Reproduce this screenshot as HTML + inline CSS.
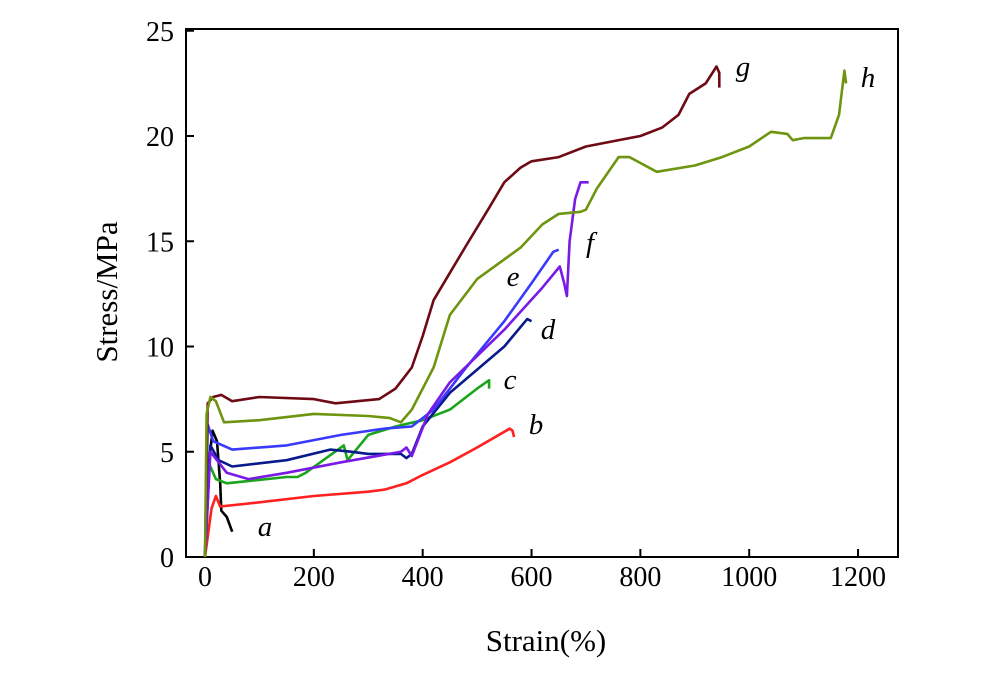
<!DOCTYPE html>
<html><head><meta charset="utf-8"><style>
html,body{margin:0;padding:0;background:#fff;}
svg{display:block;font-family:"Liberation Serif",serif;}
</style></head><body>
<svg id="chart" width="1000" height="675" viewBox="0 0 1000 675" xmlns="http://www.w3.org/2000/svg">
<rect x="186" y="29" width="712" height="528" fill="none" stroke="#000" stroke-width="2"/>
<g id="ticks"></g>
<g id="series"></g>
<text x="546" y="651" font-size="31" text-anchor="middle">Strain(%)</text>
<text transform="translate(117,292) rotate(-90)" font-size="31" text-anchor="middle">Stress/MPa</text>
</svg>
<script>
const xTicks=[0,200,400,600,800,1000,1200];
const yTicks=[0,5,10,15,20,25];
const names=["a","b","c","d","e","f","g","h"];
const colors=["#000000","#ff2020","#1aa51a","#0a1a8c","#3a3aff","#7a1ae6","#6e0a14","#6e9410"];
const sA=[[0,0],[5,4],[14,6],[22,5.5],[28,3.5],[30,2.2],[40,1.9],[50,1.2]];
const sB=[[0,0],[12,2.3],[20,2.9],[28,2.4],[100,2.6],[200,2.9],[300,3.1],[330,3.2],[370,3.5],[400,3.9],[450,4.5],[500,5.2],[560,6.1],[565,6.0],[568,5.7]];
const sC=[[0,0],[8,4.4],[20,3.7],[40,3.5],[150,3.8],[170,3.8],[185,4.0],[255,5.3],[262,4.6],[300,5.8],[350,6.2],[400,6.5],[450,7.0],[500,8.0],[522,8.4],[522,8.0]];
const sD=[[0,0],[10,5.3],[25,4.6],[50,4.3],[150,4.6],[230,5.1],[270,5.0],[300,4.9],[360,4.9],[370,4.7],[380,4.9],[400,6.2],[450,7.8],[550,10.0],[592,11.3],[600,11.2]];
const sE=[[0,0],[5,6.3],[15,5.5],[50,5.1],[150,5.3],[250,5.8],[330,6.1],[380,6.2],[420,7.0],[480,9.0],[550,11.2],[600,13.0],[640,14.5],[650,14.6]];
const sF=[[0,0],[10,5.0],[40,4.0],[80,3.7],[150,4.0],[250,4.5],[360,5.0],[370,5.2],[380,4.8],[410,6.8],[450,8.3],[550,10.8],[620,12.8],[652,13.8],[660,13.0],[665,12.4],[670,15.0],[680,17.0],[690,17.8],[705,17.8]];
const sG=[[0,0],[5,7.3],[15,7.6],[30,7.7],[50,7.4],[100,7.6],[200,7.5],[240,7.3],[320,7.5],[350,8.0],[380,9.0],[400,10.5],[420,12.2],[450,13.5],[480,14.8],[520,16.5],[550,17.8],[580,18.5],[600,18.8],[650,19.0],[700,19.5],[800,20.0],[840,20.4],[870,21.0],[890,22.0],[920,22.5],[940,23.3],[945,23.0],[945,22.3]];
const sH=[[0,0],[3,6.8],[10,7.6],[20,7.4],[35,6.4],[100,6.5],[200,6.8],[300,6.7],[340,6.6],[360,6.4],[380,7.0],[420,9.0],[450,11.5],[500,13.2],[580,14.7],[620,15.8],[650,16.3],[690,16.4],[700,16.5],[720,17.5],[760,19.0],[780,19.0],[830,18.3],[900,18.6],[950,19.0],[1000,19.5],[1040,20.2],[1070,20.1],[1080,19.8],[1100,19.9],[1150,19.9],[1165,21.0],[1175,23.1],[1178,22.5]];
const allSeries=[sA,sB,sC,sD,sE,sF,sG,sH];
const labelPos=[[265,527],[536,425],[510,380],[548,330],[513,277],[590,243],[743,67],[868,78]];
const X=v=>205+v*0.5442, Y=v=>557-v*21.05;
const NS="http://www.w3.org/2000/svg";
const tg=document.getElementById("ticks"), sg=document.getElementById("series");
xTicks.forEach(t=>{
  const l=document.createElementNS(NS,"line");
  
  
  l.setAttribute("x1",X(t));l.setAttribute("x2",X(t));l.setAttribute("y1",557);l.setAttribute("y2",549);l.setAttribute("stroke","#000");l.setAttribute("stroke-width","2");tg.appendChild(l);
  const tx=document.createElementNS(NS,"text");
  
  
  tx.setAttribute("x",X(t));tx.setAttribute("y",586);tx.setAttribute("font-size","28");tx.setAttribute("text-anchor","middle");tx.textContent=t;tg.appendChild(tx);
});
yTicks.forEach(t=>{
  const l=document.createElementNS(NS,"line");
  
  
  l.setAttribute("x1",186);l.setAttribute("x2",194);l.setAttribute("y1",Y(t));l.setAttribute("y2",Y(t));l.setAttribute("stroke","#000");l.setAttribute("stroke-width","2");tg.appendChild(l);
  const tx=document.createElementNS(NS,"text");
  
  
  tx.setAttribute("x",174);tx.setAttribute("y",Y(t)+10);tx.setAttribute("font-size","28");tx.setAttribute("text-anchor","end");tx.textContent=t;tg.appendChild(tx);
});
allSeries.forEach((s,i)=>{
  const p=document.createElementNS(NS,"polyline");
  
  
  p.setAttribute("points",s.map(d=>X(d[0]).toFixed(1)+","+Y(d[1]).toFixed(1)).join(" "));
  p.setAttribute("fill","none");p.setAttribute("stroke",colors[i]);p.setAttribute("stroke-width","2.6");p.setAttribute("stroke-linejoin","round");
  sg.appendChild(p);
  const tx=document.createElementNS(NS,"text");
  
  
  tx.setAttribute("x",labelPos[i][0]);tx.setAttribute("y",labelPos[i][1]+9);tx.setAttribute("font-size","29");tx.setAttribute("font-style","italic");tx.setAttribute("text-anchor","middle");tx.textContent=names[i];
  sg.appendChild(tx);
});
</script>
</body></html>
